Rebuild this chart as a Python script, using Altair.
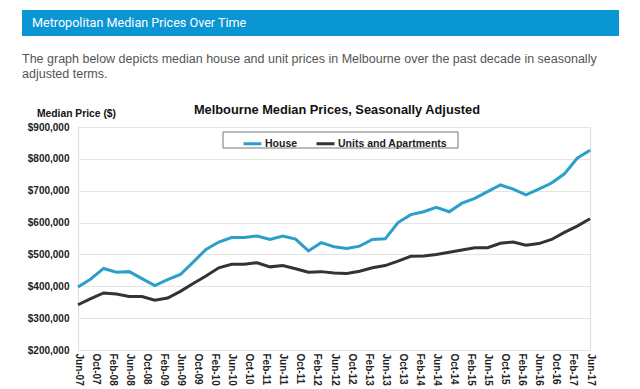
import altair as alt
import pandas as pd

# Quarterly points, month index 0 = Jun-07 ... 120 = Jun-17
months = list(range(0, 121, 3))
house = [398, 423, 456, 444, 446, 424, 402, 421, 437, 476, 516, 539, 553, 553,
         558, 547, 558, 548, 511, 537, 524, 519, 526, 547, 549, 600, 625, 634,
         648, 634, 661, 676, 697, 718, 705, 687, 705, 724, 753, 802, 827]
units = [342, 361, 379, 376, 368, 368, 356, 363, 384, 409, 432, 458, 469, 469,
         474, 461, 465, 455, 444, 446, 442, 440, 447, 458, 465, 479, 494, 495,
         500, 507, 514, 521, 521, 535, 539, 529, 534, 547, 569, 589, 612]
tick_labels = ["Jun-07", "Oct-07", "Feb-08", "Jun-08", "Oct-08", "Feb-09", "Jun-09",
               "Oct-09", "Feb-10", "Jun-10", "Oct-10", "Feb-11", "Jun-11", "Oct-11",
               "Feb-12", "Jun-12", "Oct-12", "Feb-13", "Jun-13", "Oct-13", "Feb-14",
               "Jun-14", "Oct-14", "Feb-15", "Jun-15", "Oct-15", "Feb-16", "Jun-16",
               "Oct-16", "Feb-17", "Jun-17"]
series_names = ["House", "Units and Apartments"]
series_colors = ["#2a9fc9", "#333333"]

rows = []
for m, h, u in zip(months, house, units):
    rows.append({"m": m, "price": h * 1000, "series": series_names[0]})
    rows.append({"m": m, "price": u * 1000, "series": series_names[1]})
df = pd.DataFrame(rows)

label_arr = "[" + ",".join("'%s'" % t for t in tick_labels) + "]"

FONT = "Liberation Sans"

lines = alt.Chart(df).mark_line(strokeWidth=3).encode(
    x=alt.X("m:Q", scale=alt.Scale(domain=[0, 120], nice=False),
            axis=alt.Axis(values=list(range(0, 121, 4)), labelExpr=label_arr + "[datum.value/4]",
                          labelAngle=90, labelAlign="left", labelBaseline="middle",
                          labelPadding=3, labelFontSize=10, labelFontWeight="bold",
                          labelColor="#222", labelFont=FONT, labelOverlap=False,
                          grid=False, domain=False, ticks=False, title=None)),
    y=alt.Y("price:Q", scale=alt.Scale(domain=[200000, 900000], nice=False),
            axis=alt.Axis(values=list(range(200000, 900001, 100000)), format="$,.0f",
                          labelFontSize=10, labelFontWeight="bold", labelColor="#222",
                          labelFont=FONT, labelPadding=9, grid=True, gridColor="#e4e4e4",
                          domain=False, ticks=False, title=None)),
    color=alt.Color("series:N", scale=alt.Scale(domain=series_names, range=series_colors),
                    legend=alt.Legend(title=None, orient="none", legendX=164, legendY=6,
                                      direction="horizontal", padding=0,
                                      symbolType="stroke",
                                      symbolSize=324, symbolStrokeWidth=3,
                                      labelFontSize=10.5, labelFontWeight="bold",
                                      labelFont=FONT, labelColor="#222",
                                      labelOffset=2, columnPadding=12)),
)

one = alt.Data(values=[{}])

legend_box = alt.Chart(one).mark_rect(fill="white", stroke="#777", strokeWidth=1).encode(
    x=alt.value(145), x2=alt.value(380), y=alt.value(5), y2=alt.value(21))

header_bar = alt.Chart(one).mark_rect(color="#0a95d3").encode(
    x=alt.value(-56), x2=alt.value(541), y=alt.value(-117), y2=alt.value(-91))

header_text = alt.Chart(one).mark_text(
    text="Metropolitan Median Prices Over Time", color="white", font="Roboto",
    fontSize=12.6, align="left", baseline="middle").encode(
    x=alt.value(-46), y=alt.value(-104))

para1 = alt.Chart(one).mark_text(
    text="The graph below depicts median house and unit prices in Melbourne over the past decade in seasonally",
    color="#555555", font=FONT, fontSize=12.5, align="left", baseline="middle").encode(
    x=alt.value(-56), y=alt.value(-68))
para2 = alt.Chart(one).mark_text(
    text="adjusted terms.", color="#555555", font=FONT, fontSize=12.5,
    align="left", baseline="middle").encode(x=alt.value(-56), y=alt.value(-53))

chart_title = alt.Chart(one).mark_text(
    text="Melbourne Median Prices, Seasonally Adjusted", color="#111", font=FONT,
    fontSize=12.8, fontWeight="bold", align="center", baseline="middle").encode(
    x=alt.value(259), y=alt.value(-17))

ylab = alt.Chart(one).mark_text(
    text="Median Price ($)", color="#111", font=FONT, fontSize=10.3, fontWeight="bold",
    align="left", baseline="middle").encode(x=alt.value(-41), y=alt.value(-13))

chart = alt.layer(header_bar, header_text, para1, para2, chart_title, ylab,
                  legend_box, lines).properties(
    width=512, height=223,
    autosize=alt.AutoSizeParams(type="none"),
    padding={"left": 70, "top": 119, "right": 40, "bottom": 38},
).configure_view(stroke="#8a8a8a", strokeWidth=1.5).configure(background="white")

chart.save("out.html", embed_options={"renderer": "svg", "actions": False})
